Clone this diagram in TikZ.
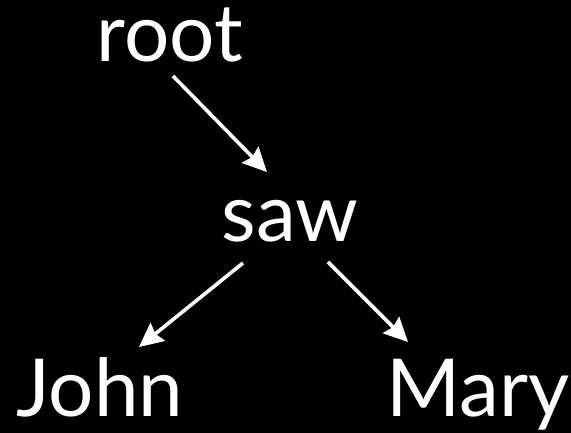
\documentclass[tikz,border=0pt]{standalone}
\usepackage{fontspec}
\setmainfont{Lato}
\usetikzlibrary{arrows.meta}

\begin{document}
\begin{tikzpicture}[x=1pt,y=1pt,
  word/.style={text=white,anchor=base,inner sep=0pt,font=\fontsize{80}{84}\selectfont},
  dep/.style={draw=white,line width=3.6pt,-{Stealth[length=24pt,width=23pt,inset=3pt]}}]
\fill[black] (0,0) rectangle (571,433);
\node[word] (root) at (170,371) {root};
\node[word] (saw) at (290,191) {saw};
\node[word] (john) at (100,16) {John};
\node[word] (mary) at (478,16) {Mary};
% arrows from head to dependent
\draw[dep] ([shift={(3pt,-14pt)}]root.base) -- ([shift={(-23pt,70pt)}]saw.base);
\draw[dep] ([shift={(-47pt,-21pt)}]saw.base) -- ([shift={(39pt,70pt)}]john.base);
\draw[dep] ([shift={(38pt,-20pt)}]saw.base) -- ([shift={(-70pt,75pt)}]mary.base);
\end{tikzpicture}
\end{document}
